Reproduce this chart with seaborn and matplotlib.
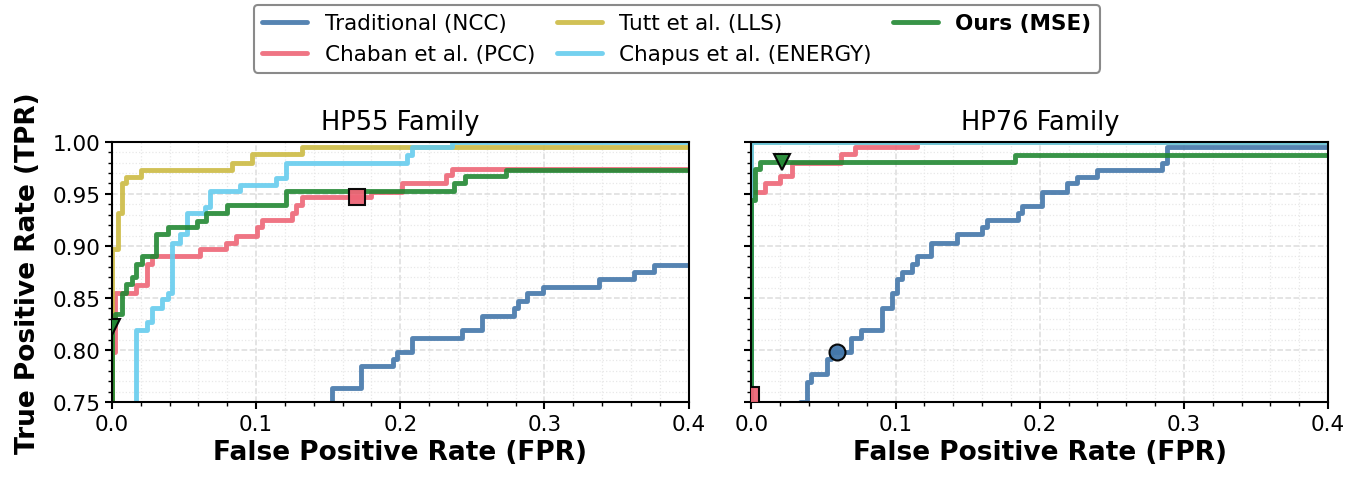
import matplotlib
matplotlib.use("Agg")
import matplotlib.pyplot as plt
import seaborn as sns
from matplotlib.ticker import MultipleLocator, FormatStrFormatter

sns.set_theme(
    style="ticks",
    rc={
        "axes.edgecolor": "black",
        "xtick.color": "black",
        "ytick.color": "black",
        "text.color": "black",
        "axes.labelcolor": "black",
        "axes.linewidth": 1.5,
    },
)
plt.rcParams["font.family"] = ["DejaVu Sans"]

methods = [
    "Traditional (NCC)",
    "Chaban et al. (PCC)",
    "Tutt et al. (LLS)",
    "Chapus et al. (ENERGY)",
    "Ours (MSE)",
]
colors = ["#4477AA", "#EE6677", "#CCBB44", "#66CCEE", "#228833"]
panel_titles = ["HP55 Family", "HP76 Family"]

# ---- HP55 ROC points (fpr, tpr), drawn as steps ----
ncc55_fpr = [0.0, 0.140, 0.1525, 0.173, 0.195, 0.198, 0.208, 0.243, 0.257, 0.279, 0.2815, 0.288, 0.299, 0.338, 0.362, 0.376, 1.0]
ncc55_tpr = [0.0, 0.740, 0.764, 0.785, 0.791, 0.798, 0.812, 0.819, 0.833, 0.840, 0.847, 0.855, 0.861, 0.868, 0.875, 0.882, 1.0]

pcc55_fpr = [0.0, 0.0, 0.002, 0.0167, 0.024, 0.0275, 0.061, 0.079, 0.086, 0.1005, 0.104, 0.125, 0.128, 0.132, 0.180, 0.201, 0.232, 0.236, 1.0]
pcc55_tpr = [0.0, 0.798, 0.855, 0.862, 0.883, 0.890, 0.897, 0.903, 0.910, 0.918, 0.925, 0.932, 0.939, 0.947, 0.952, 0.960, 0.968, 0.974, 1.0]

lls55_fpr = [0.0, 0.0, 0.0044, 0.0067, 0.0097, 0.020, 0.083, 0.097, 0.132, 1.0]
lls55_tpr = [0.0, 0.897, 0.932, 0.960, 0.966, 0.973, 0.980, 0.988, 0.995, 1.0]

energy55_fpr = [0.0, 0.0167, 0.024, 0.0275, 0.035, 0.039, 0.0415, 0.047, 0.052, 0.0646, 0.068, 0.089, 0.114, 0.121, 0.2046, 0.208, 0.236, 1.0]
energy55_tpr = [0.0, 0.8195, 0.827, 0.840, 0.849, 0.855, 0.903, 0.911, 0.932, 0.937, 0.953, 0.959, 0.965, 0.980, 0.987, 0.995, 1.0, 1.0]

mse55_fpr = [0.0, 0.0, 0.002, 0.0067, 0.010, 0.0137, 0.017, 0.0206, 0.0306, 0.039, 0.0588, 0.0653, 0.0796, 0.121, 0.237, 0.245, 0.273, 1.0]
mse55_tpr = [0.0, 0.827, 0.835, 0.855, 0.863, 0.870, 0.883, 0.890, 0.911, 0.918, 0.924, 0.932, 0.939, 0.953, 0.960, 0.967, 0.973, 1.0]

# ---- HP76 ----
ncc76_fpr = [0.0, 0.034, 0.0382, 0.0414, 0.0525, 0.0553, 0.0688, 0.076, 0.0907, 0.0977, 0.1007, 0.1046, 0.1116, 0.115, 0.1248, 0.1428, 0.160, 0.1636, 0.185, 0.188, 0.2015, 0.219, 0.226, 0.240, 0.285, 0.288, 1.0]
ncc76_tpr = [0.0, 0.750, 0.7695, 0.777, 0.791, 0.798, 0.812, 0.8195, 0.840, 0.855, 0.868, 0.875, 0.883, 0.890, 0.903, 0.911, 0.918, 0.925, 0.932, 0.938, 0.952, 0.960, 0.966, 0.973, 0.980, 0.995, 1.0]

pcc76_fpr = [0.0, 0.0, 0.0097, 0.020, 0.028, 0.062, 0.072, 0.115, 1.0]
pcc76_tpr = [0.0, 0.952, 0.960, 0.967, 0.980, 0.988, 0.995, 1.0, 1.0]

lls76_fpr = [0.0, 0.0, 1.0]
lls76_tpr = [0.0, 1.0, 1.0]

energy76_fpr = [0.0, 0.0, 1.0]
energy76_tpr = [0.0, 1.0, 1.0]

mse76_fpr = [0.0, 0.0, 0.0028, 0.0062, 0.183, 1.0]
mse76_tpr = [0.0, 0.9445, 0.974, 0.9805, 0.9875, 1.0]

# operating points (method index, fpr, tpr, marker)
points55 = [(1, 0.170, 0.947, "s"), (4, 0.0, 0.822, "v")]
points76 = [(0, 0.059, 0.798, "o"), (1, 0.0, 0.757, "s"), (4, 0.021, 0.9805, "v")]

panels = [
    [(ncc55_fpr, ncc55_tpr), (pcc55_fpr, pcc55_tpr), (lls55_fpr, lls55_tpr),
     (energy55_fpr, energy55_tpr), (mse55_fpr, mse55_tpr)],
    [(ncc76_fpr, ncc76_tpr), (pcc76_fpr, pcc76_tpr), (lls76_fpr, lls76_tpr),
     (energy76_fpr, energy76_tpr), (mse76_fpr, mse76_tpr)],
]
panel_points = [points55, points76]

fig, axes = plt.subplots(1, 2, figsize=(13.72, 4.81), dpi=100, sharey=True)
fig.subplots_adjust(left=0.0816, right=0.968, bottom=0.162, top=0.703, wspace=0.109)

for ax, curves, pts, title in zip(axes, panels, panel_points, panel_titles):
    for (fpr, tpr), name, c in zip(curves, methods, colors):
        sns.lineplot(
            x=fpr, y=tpr, ax=ax, color=c, lw=3.5, alpha=0.9,
            drawstyle="steps-post", estimator=None, sort=False,
            label=name, legend=False,
        )
    for idx, px, py, mk in pts:
        ax.plot(px, py, marker=mk, ms=11.5, color=colors[idx], alpha=0.95,
                mec="black", mew=1.5, zorder=5)

    ax.set_xlim(0, 0.4)
    ax.set_ylim(0.75, 1.0)
    ax.xaxis.set_major_locator(MultipleLocator(0.1))
    ax.xaxis.set_minor_locator(MultipleLocator(0.02))
    ax.yaxis.set_major_locator(MultipleLocator(0.05))
    ax.yaxis.set_minor_locator(MultipleLocator(0.01))
    ax.xaxis.set_major_formatter(FormatStrFormatter("%.1f"))
    ax.yaxis.set_major_formatter(FormatStrFormatter("%.2f"))
    ax.grid(which="major", ls="--", color="#dcdcdc", lw=1.1)
    ax.grid(which="minor", ls=":", color="#e8e8e8", lw=0.9)
    ax.set_axisbelow(True)
    ax.tick_params(which="major", length=5, width=1.5, labelsize=15.5)
    ax.tick_params(which="minor", length=3, width=1.0)
    for sp in ax.spines.values():
        sp.set_visible(True)
        sp.set_linewidth(1.5)
    ax.set_title(title, fontsize=18.5, pad=9)
    ax.set_xlabel("False Positive Rate (FPR)", fontsize=19, fontweight="bold")

axes[0].set_ylabel("True Positive Rate (TPR)", fontsize=19, fontweight="bold", labelpad=8)
axes[1].set_ylabel("")
axes[1].tick_params(labelleft=False)

handles, labels = axes[0].get_legend_handles_labels()
leg = fig.legend(
    handles, labels, loc="upper center", bbox_to_anchor=(0.4934, 0.997),
    ncol=3, fontsize=15.5, frameon=True, fancybox=True, framealpha=1,
    edgecolor="#8a8a8a", columnspacing=1.0, handlelength=2.1,
    borderaxespad=0.2,
)
leg.get_frame().set_linewidth(1.5)
leg.get_texts()[4].set_fontweight("bold")

fig.savefig("out.png", dpi=100)
